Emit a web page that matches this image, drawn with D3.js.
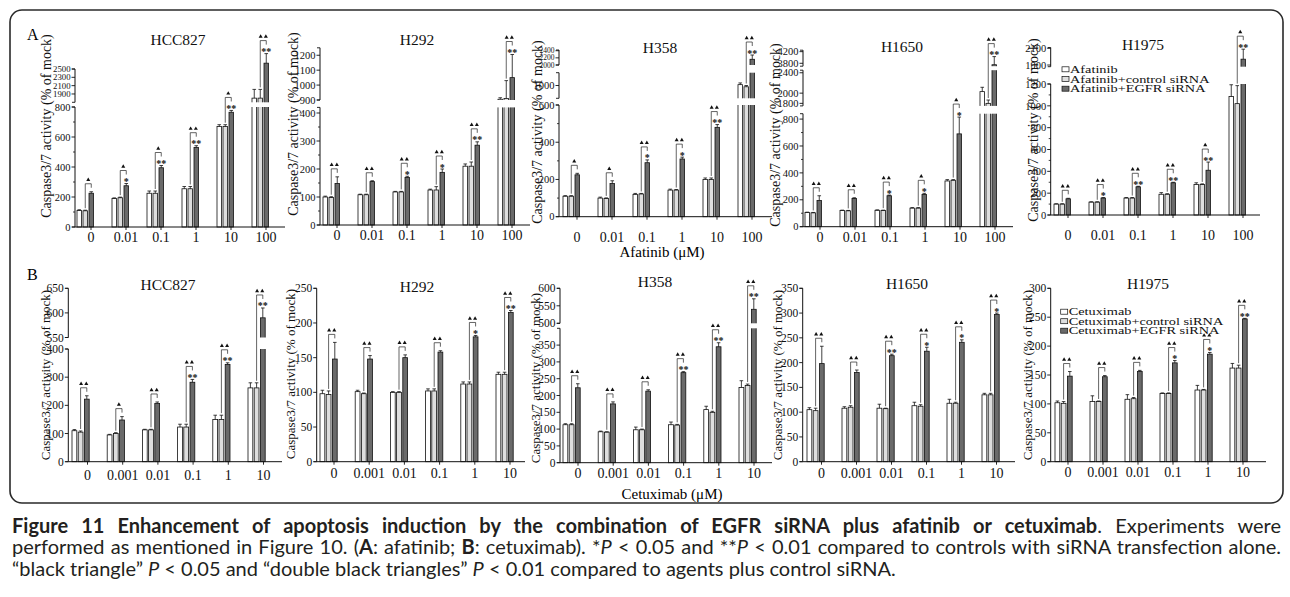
<!DOCTYPE html>
<html><head><meta charset="utf-8">
<script src="https://cdn.jsdelivr.net/npm/d3@7"></script>
<style>body{margin:0;background:#fff}svg{display:block}</style>
</head><body><svg id="c" width="1290" height="597"></svg>
<script>
// ---------------- DATA ----------------
const afatinibDoses = ["0","0.01","0.1","1","10","100"];
const cetuximabDoses = ["0","0.001","0.01","0.1","1","10"];
const afatinibSeries = ["Afatinib","Afatinib+control siRNA","Afatinib+EGFR siRNA"];
const cetuximabSeries = ["Cetuximab","Cetuximab+control siRNA","Cetuximab+EGFR siRNA"];
const cellLines = ["HCC827","H292","H358","H1650","H1975"];

// Panel A (afatinib): per dose [drug, drug+control siRNA, drug+EGFR siRNA]
const aHCC827Mean = [[110,108,225],[190,195,275],[225,225,395],[255,255,530],[670,670,765],[1800,1800,2640]];
const aHCC827Err  = [[5,4,10],[4,4,15],[15,15,15],[15,15,12],[12,12,12],[210,210,230]];
const aHCC827Tri  = [1,1,1,2,1,2];
const aHCC827Star = ["","*","**","**","**","**"];
const aHCC827Ticks = [[0,200,400,600,800],[1900,2100,2300,2500]];

const aH292Mean = [[100,98,148],[108,108,155],[118,118,170],[125,125,188],[210,210,285],[905,910,1050]];
const aH292Err  = [[3,3,24],[2,2,3],[2,2,4],[3,12,12],[8,15,12],[10,120,155]];
const aH292Tri  = [2,2,2,2,2,2];
const aH292Star = ["","","*","*","**","**"];
const aH292Ticks = [[0,100,200,300,400],[900,1000,1100,1200]];

const aH358Mean = [[110,110,225],[100,98,178],[120,122,290],[143,143,310],[200,200,480],[1010,985,2160]];
const aH358Err  = [[3,3,8],[5,3,15],[5,3,15],[5,3,10],[8,8,15],[20,15,120]];
const aH358Tri  = [1,1,2,2,2,2];
const aH358Star = ["","","*","*","**","**"];
const aH358Ticks = [[0,200,400,600],[1000],[2000,2200,2400]];

const aH1650Mean = [[105,103,195],[120,118,210],[122,120,230],[138,138,240],[340,345,690],[2030,1800,3750]];
const aH1650Err  = [[3,3,35],[3,3,5],[3,3,5],[4,4,8],[10,5,125],[85,65,280]];
const aH1650Tri  = [2,2,2,1,1,2];
const aH1650Star = ["","","*","*","*","**"];
const aH1650Ticks = [[0,200,400,600,800],[1800,2000,2400],[3800,4200]];

const aH1975Mean = [[100,100,148],[118,118,155],[155,155,258],[190,190,295],[280,280,410],[1085,1020,1970]];
const aH1975Err  = [[3,3,5],[3,3,5],[5,5,5],[15,5,5],[15,5,75],[108,165,120]];
const aH1975Tri  = [2,2,2,2,1,1];
const aH1975Star = ["","*","**","**","**","**"];
const aH1975Ticks = [[0,200,400,600,800,1000,1200],[1900,2100]];

// Panel B (cetuximab)
const bHCC827Mean = [[110,105,222],[95,100,148],[113,113,207],[123,123,282],[150,150,345],[262,262,590]];
const bHCC827Err  = [[4,4,12],[2,3,12],[2,2,5],[10,10,10],[15,15,6],[18,18,20]];
const bHCC827Tri  = [2,1,2,2,2,2];
const bHCC827Star = ["","","","**","**","**"];
const bHCC827Ticks = [[0,100,200,300,400],[550,600,650]];

const bH292Mean = [[98,97,148],[101,98,148],[100,100,150],[102,102,158],[112,112,180],[126,126,215]];
const bH292Err  = [[5,5,24],[2,1,5],[1,1,4],[3,3,2],[3,3,2],[3,3,3]];
const bH292Tri  = [2,2,2,2,2,2];
const bH292Star = ["","","","","*","**"];
const bH292Ticks = [[0,50,100,150,200,250]];

const bH358Mean = [[113,113,223],[92,91,175],[98,98,213],[113,112,268],[158,150,345],[224,230,540]];
const bH358Err  = [[3,3,12],[2,1,6],[8,2,4],[8,2,3],[10,3,12],[20,4,30]];
const bH358Tri  = [2,2,2,2,2,2];
const bH358Star = ["","","","**","**","**"];
const bH358Ticks = [[0,50,100,150,200,250,300,350],[500,550,600]];

const bH1650Mean = [[105,103,198],[108,110,180],[108,107,214],[113,112,223],[118,118,241],[135,135,297]];
const bH1650Err  = [[4,5,35],[3,3,5],[8,1,3],[7,3,8],[8,2,5],[3,3,3]];
const bH1650Tri  = [2,2,2,2,2,2];
const bH1650Star = ["","","**","*","*","*"];
const bH1650Ticks = [[0,50,100,150,200,250,300,350]];

const bH1975Mean = [[102,101,148],[104,104,147],[108,109,156],[118,118,171],[124,124,186],[162,162,247]];
const bH1975Err  = [[3,3,8],[10,1,2],[8,2,2],[1,1,4],[8,1,3],[8,5,1]];
const bH1975Tri  = [2,2,2,2,2,2];
const bH1975Star = ["","","","*","*","**"];
const bH1975Ticks = [[0,50,100,150,200,250,300]];

// ---------------- LAYOUT (positions only) ----------------
const LA = [
  {ax:75, xEnd:285, base:227, gx:77, step:35, lblOff:14, lblY:237.5, title:[178,40], ylab:[46,126],
   segs:[{d:[0,800],r:[227,107]},{d:[1700,2500],r:[102.3,69]}]},
  {ax:320, xEnd:530, base:225, gx:323, step:35, lblOff:14, lblY:235.5, title:[417,40], ylab:[293,124],
   segs:[{d:[0,420],r:[225,107.4]},{d:[900,1250],r:[100,47.8]}]},
  {ax:559, xEnd:772, base:216.7, gx:563, step:35, lblOff:14, lblY:237, title:[660,47.5], ylab:[537,132],
   segs:[{d:[0,600],r:[216.7,105]},{d:[850,1150],r:[98.3,72.7]},{d:[2000,2420],r:[65,50]}]},
  {ax:803, xEnd:1013, base:226.7, gx:805, step:35, lblOff:15, lblY:237.5, title:[902,46.5], ylab:[775,135],
   segs:[{d:[0,840],r:[226.7,113.7]},{d:[1750,2450],r:[105.9,70.2]},{d:[3700,4250],r:[66.2,50.2]}]},
  {ax:1050.7, xEnd:1260, base:215, gx:1054, step:35, lblOff:14, lblY:235.5, title:[1143,45], ylab:[1033,130],
   segs:[{d:[0,1200],r:[215,84]},{d:[1880,2110],r:[66.7,47.5]}],
   legend:{x:1062, y:69.3, dy:9.7}}
];
const LB = [
  {ax:68.3, xEnd:282, base:461.7, gx:72, step:35.2, lblOff:15.5, lblY:475, title:[168,285], ylab:[45,375],
   segs:[{d:[0,400],r:[461.7,349]},{d:[550,650],r:[337.5,288.3]}]},
  {ax:316.7, xEnd:525, base:461.7, gx:320, step:35.2, lblOff:14, lblY:473, title:[417,287], ylab:[290,374],
   segs:[{d:[0,250],r:[461.7,288.3]}]},
  {ax:560, xEnd:772, base:462.7, gx:563, step:35.2, lblOff:15, lblY:473, title:[655,282], ylab:[535,378],
   segs:[{d:[0,400],r:[462.7,328.3]},{d:[500,600],r:[323.3,288.3]}]},
  {ax:802.7, xEnd:1015, base:461.7, gx:807, step:35, lblOff:14.5, lblY:473, title:[907,284], ylab:[777,375],
   segs:[{d:[0,350],r:[461.7,288.3]}]},
  {ax:1050.7, xEnd:1266, base:461.7, gx:1055, step:35, lblOff:13, lblY:472, title:[1148,284], ylab:[1027,375],
   segs:[{d:[0,300],r:[461.7,288.3]}],
   legend:{x:1060.7, y:311.7, dy:9.5}}
];

const FILLS = ["#ffffff","#dedede","#6a6a6a"];
const SERIF = "'Liberation Serif','Times New Roman',serif";
const svg = d3.select("#c");

svg.append("rect").attr("x",10).attr("y",10).attr("width",1273).attr("height",493)
  .attr("rx",12).attr("fill","none").attr("stroke","#2a2a2a").attr("stroke-width",1.6);

function drawPanel(doses, means, errs, tri, star, ticks, title, L, series, big) {
  const g = svg.append("g").attr("font-family", SERIF).attr("fill","#111");
  const segs = L.segs.map(s => ({d:s.d, r:s.r, sc:d3.scaleLinear().domain(s.d).range(s.r)}));
  const y = v => { let k = 0; segs.forEach((s,i) => { if (v >= s.d[0]) k = i; }); return segs[k].sc(v); };
  const xb = d3.scaleBand().domain(doses).range([L.gx, L.gx + L.step*doses.length]);
  const bw = big ? 4.8 : 4.5, bstep = big ? 6.2 : 6;
  const bx = (d,j) => xb(d) + j*bstep;

  doses.forEach((d,i) => means[i].forEach((m,j) => {
    g.append("rect").attr("x", bx(d,j)).attr("y", y(m)).attr("width", bw).attr("height", L.base - y(m))
      .attr("fill", FILLS[j]).attr("stroke","#111").attr("stroke-width",0.8);
  }));
  for (let k = 0; k < segs.length-1; k++) {
    let y1 = segs[k+1].r[0], y2 = segs[k].r[1];
    if (y2 - y1 < 3) { const c = (y1+y2)/2; y1 = c-1.6; y2 = c+1.6; }
    doses.forEach((d,i) => means[i].forEach((m,j) => {
      if (m > segs[k].d[1]) g.append("rect").attr("x", bx(d,j)-1).attr("y", y1)
        .attr("width", bw+2).attr("height", y2-y1).attr("fill","#fff");
    }));
  }
  doses.forEach((d,i) => means[i].forEach((m,j) => {
    const cx = bx(d,j) + bw/2, t = y(m+errs[i][j]);
    g.append("path").attr("d", `M${cx},${y(m)}V${t}M${cx-1.8},${t}H${cx+1.8}`)
      .attr("stroke","#111").attr("stroke-width",0.8).attr("fill","none");
  }));
  doses.forEach((d,i) => {
    const lx = bx(d,1) + bw/2, rx = bx(d,2) + bw/2;
    const lightTop = y(means[i][1] + errs[i][1]);
    const darkTop = y(means[i][2] + errs[i][2]);
    const s = star[i];
    const brY = s ? darkTop - 13 : darkTop - 8;
    if (s) g.append("text").attr("x", rx).attr("y", darkTop + 1.5).attr("text-anchor","middle")
      .attr("font-size", 10).attr("font-weight","bold").text(s);
    g.append("path").attr("d", `M${lx},${Math.max(lightTop-2, brY+4)}V${brY}H${rx}V${brY+4}`)
      .attr("stroke","#222").attr("stroke-width",0.7).attr("fill","none");
    const mx = (lx+rx)/2;
    const offs = tri[i] === 2 ? [-2.6, 2.6] : [0];
    offs.forEach(o => g.append("path")
      .attr("d", d3.symbol(d3.symbolTriangle, 7)())
      .attr("transform", `translate(${mx+o},${brY-4})`).attr("fill","#111"));
  });

  segs.forEach((s, si) => {
    g.append("line").attr("x1", L.ax).attr("x2", L.ax).attr("y1", s.r[0]).attr("y2", s.r[1])
      .attr("stroke","#111").attr("stroke-width",1);
    const tv = ticks[si];
    const gap = tv.length > 1 ? Math.abs(s.sc(tv[1]) - s.sc(tv[0])) : 20;
    const fsz = big ? 11.5 : Math.min(10.5, Math.max(7.5, gap * 1.05));
    tv.forEach(v => {
      g.append("line").attr("x1", L.ax-3.5).attr("x2", L.ax).attr("y1", s.sc(v)).attr("y2", s.sc(v))
        .attr("stroke","#111").attr("stroke-width",0.9);
      g.append("text").attr("x", L.ax-4.5).attr("y", s.sc(v)).attr("dy","0.35em").attr("text-anchor","end")
        .attr("font-size", fsz).text(v);
    });
    if (!big && si === 0) d3.pairs(tv).forEach(([a,b]) => {
      const yy = s.sc((a+b)/2);
      g.append("line").attr("x1", L.ax-2).attr("x2", L.ax).attr("y1", yy).attr("y2", yy)
        .attr("stroke","#111").attr("stroke-width",0.8);
    });
    [s.r[0], s.r[1]].forEach(yy => g.append("line").attr("x1", L.ax-3).attr("x2", L.ax)
      .attr("y1", yy).attr("y2", yy).attr("stroke","#111").attr("stroke-width",0.9));
  });
  g.append("line").attr("x1", L.ax).attr("x2", L.xEnd).attr("y1", L.base).attr("y2", L.base)
    .attr("stroke","#111").attr("stroke-width",1);
  doses.forEach(d => {
    const lx = xb(d) + L.lblOff;
    g.append("line").attr("x1", lx).attr("x2", lx).attr("y1", L.base).attr("y2", L.base+3)
      .attr("stroke","#111").attr("stroke-width",0.9);
    g.append("text").attr("x", lx).attr("y", L.lblY).attr("dy","0.35em").attr("text-anchor","middle")
      .attr("font-size", 14).text(d);
  });
  g.append("text").attr("x", L.title[0]).attr("y", L.title[1]).attr("dy","0.35em").attr("text-anchor","middle")
    .attr("font-size", 15.5).text(title);
  g.append("text").attr("transform", `translate(${L.ylab[0]},${L.ylab[1]}) rotate(-90)`)
    .attr("dy","0.35em").attr("text-anchor","middle").attr("font-size", big ? 13 : 14)
    .text("Caspase3/7 activity (% of mock)");
  if (L.legend) series.forEach((nm, j) => {
    const yy = L.legend.y + j*L.legend.dy;
    g.append("rect").attr("x", L.legend.x).attr("y", yy-2.5).attr("width", 7).attr("height", 5)
      .attr("fill", FILLS[j]).attr("stroke","#111").attr("stroke-width",0.7);
    g.append("text").attr("transform", `translate(${L.legend.x + 8},${yy}) scale(1.35,1)`)
      .attr("dy","0.35em").attr("font-size", 10.6).text(nm);
  });
}

const A = [
  [aHCC827Mean,aHCC827Err,aHCC827Tri,aHCC827Star,aHCC827Ticks],
  [aH292Mean,aH292Err,aH292Tri,aH292Star,aH292Ticks],
  [aH358Mean,aH358Err,aH358Tri,aH358Star,aH358Ticks],
  [aH1650Mean,aH1650Err,aH1650Tri,aH1650Star,aH1650Ticks],
  [aH1975Mean,aH1975Err,aH1975Tri,aH1975Star,aH1975Ticks]
];
const B = [
  [bHCC827Mean,bHCC827Err,bHCC827Tri,bHCC827Star,bHCC827Ticks],
  [bH292Mean,bH292Err,bH292Tri,bH292Star,bH292Ticks],
  [bH358Mean,bH358Err,bH358Tri,bH358Star,bH358Ticks],
  [bH1650Mean,bH1650Err,bH1650Tri,bH1650Star,bH1650Ticks],
  [bH1975Mean,bH1975Err,bH1975Tri,bH1975Star,bH1975Ticks]
];
A.forEach((p,i) => drawPanel(afatinibDoses, p[0], p[1], p[2], p[3], p[4], cellLines[i], LA[i], afatinibSeries, false));
B.forEach((p,i) => drawPanel(cetuximabDoses, p[0], p[1], p[2], p[3], p[4], cellLines[i], LB[i], cetuximabSeries, true));

svg.append("text").attr("x",27).attr("y",40).attr("font-family",SERIF).attr("font-size",16).text("A");
svg.append("text").attr("x",27).attr("y",280).attr("font-family",SERIF).attr("font-size",16).text("B");
svg.append("text").attr("x",662).attr("y",252).attr("dy","0.35em").attr("text-anchor","middle")
  .attr("font-family",SERIF).attr("font-size",15).text("Afatinib (μM)");
svg.append("text").attr("x",672).attr("y",494).attr("dy","0.35em").attr("text-anchor","middle")
  .attr("font-family",SERIF).attr("font-size",15).text("Cetuximab (μM)");

// caption (justified paragraph: first two lines fill the width, last line ragged)
const capParts = [
  [{t:"Figure 11 Enhancement of apoptosis induction by the combination of EGFR siRNA plus afatinib or cetuximab", b:1},
   {t:". Experiments were"}],
  [{t:"performed as mentioned in Figure 10. ("},{t:"A",b:1},{t:": afatinib; "},{t:"B",b:1},{t:": cetuximab). *"},
   {t:"P",i:1},{t:" < 0.05 and **"},{t:"P",i:1},{t:" < 0.01 compared to controls with siRNA transfection alone."}],
  [{t:"\u201cblack triangle\u201d "},{t:"P",i:1},{t:" < 0.05 and \u201cdouble black triangles\u201d "},{t:"P",i:1},
   {t:" < 0.01 compared to agents plus control siRNA."}]
];
const capY = [532.5, 554, 575.5];
const capJustify = [true, true, false];
capParts.forEach((parts, li) => {
  const t = svg.append("text").attr("x",12).attr("y",capY[li])
    .attr("font-family","Lato, 'Open Sans', sans-serif").attr("font-size",20).attr("fill","#231f20");
  parts.forEach(p => t.append("tspan").attr("font-weight", p.b ? "bold" : null)
    .attr("font-style", p.i ? "italic" : null).text(p.t));
  const w = t.node().getComputedTextLength();
  const n = (t.text().match(/ /g) || []).length;
  if (w > 1269) t.attr("textLength", 1269).attr("lengthAdjust","spacingAndGlyphs");
  else if (capJustify[li]) t.attr("word-spacing", (1269 - w)/n);
});
</script></body></html>
